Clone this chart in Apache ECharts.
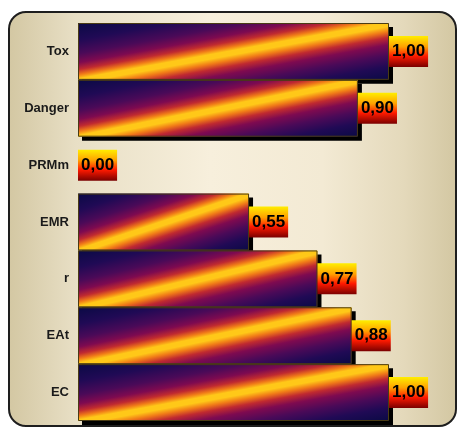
<!DOCTYPE html>
<html>
<head>
<meta charset="utf-8">
<script src="https://cdn.jsdelivr.net/npm/echarts@6/dist/echarts.min.js"></script>
<style>
  html, body { margin: 0; padding: 0; background: #ffffff; }
  #chart { width: 457px; height: 428px; }
</style>
</head>
<body>
<div id="chart"></div>
<script>
// Indicator names (top to bottom) and their scores
const categories = ['Tox', 'Danger', 'PRMm', 'EMR', 'r', 'EAt', 'EC'];
const scores = [1.00, 0.90, 0.00, 0.55, 0.77, 0.88, 1.00];

const chart = echarts.init(document.getElementById('chart'), null, { renderer: 'canvas' });

// Diagonal "flame" stripe: navy corners, yellow band along the bar's diagonal
const stripeStops = [
  { offset: 0.00, color: '#0a0a45' },
  { offset: 0.15, color: '#200a55' },
  { offset: 0.27, color: '#4a0a58' },
  { offset: 0.35, color: '#7e0a50' },
  { offset: 0.41, color: '#c02a30' },
  { offset: 0.455, color: '#f07a18' },
  { offset: 0.49, color: '#ffc818' },
  { offset: 0.53, color: '#ffc818' },
  { offset: 0.575, color: '#f07a18' },
  { offset: 0.625, color: '#c02a30' },
  { offset: 0.69, color: '#7e0a50' },
  { offset: 0.78, color: '#4a0a58' },
  { offset: 0.88, color: '#200a55' },
  { offset: 1.00, color: '#0a0a45' }
];

// Gradient whose mid-line runs from the bottom-left to the top-right corner of a W x H box
function stripeGradient(W, H) {
  const d = W * W + H * H;
  return new echarts.graphic.LinearGradient(0, 0, 2 * H * H / d, 2 * W * W / d, stripeStops);
}

const labelBg = new echarts.graphic.LinearGradient(0, 0, 0, 1, [
  { offset: 0.00, color: '#ffee00' },
  { offset: 0.35, color: '#ffa000' },
  { offset: 0.65, color: '#ff1a00' },
  { offset: 1.00, color: '#7a0000' }
]);

const frameFill = new echarts.graphic.LinearGradient(0, 0, 1, 0, [
  { offset: 0.00, color: '#d3c7a2' },
  { offset: 0.15, color: '#e8dfc5' },
  { offset: 0.45, color: '#f7efdc' },
  { offset: 0.70, color: '#f3ead4' },
  { offset: 0.88, color: '#e4d9bb' },
  { offset: 1.00, color: '#d3c7a2' }
]);

function fmt(v) { return v.toFixed(2).replace('.', ','); }

const option = {
  animation: false,
  backgroundColor: '#ffffff',
  graphic: [{
    type: 'rect',
    z: -10,
    shape: { x: 9, y: 12, width: 447, height: 414, r: 17 },
    style: { fill: frameFill, stroke: '#1e1e1e', lineWidth: 2 }
  }],
  grid: { left: 78, right: 68, top: 23, bottom: 7 },
  xAxis: {
    type: 'value', min: 0, max: 1,
    show: false, splitLine: { show: false }
  },
  yAxis: {
    type: 'category',
    data: categories,
    inverse: true,
    axisLine: { show: false },
    axisTick: { show: false },
    axisLabel: {
      margin: 9,
      color: '#1a1a1a',
      fontFamily: 'Arial, "Liberation Sans", sans-serif',
      fontWeight: 'bold',
      fontSize: 13
    }
  },
  series: [
    {
      // filled bars with a hard drop shadow
      type: 'bar',
      barCategoryGap: 0,
      barWidth: '100%',
      data: scores.map(v => ({ value: v })),
      itemStyle: {
        color: '#2a0a55',
        borderWidth: 0,
        shadowColor: '#000000',
        shadowBlur: 0,
        shadowOffsetX: 4,
        shadowOffsetY: 4
      }
    },
    {
      // thin outline on top of each bar, plus the value box
      type: 'bar',
      barGap: '-100%',
      barWidth: '100%',
      z: 3,
      data: scores.map(v => ({
        value: v,
        itemStyle: { borderWidth: v > 0 ? 1 : 0 }
      })),
      itemStyle: {
        color: 'rgba(0,0,0,0)',
        borderColor: '#4a3c14'
      },
      label: {
        show: true,
        position: 'right',
        distance: 0,
        formatter: p => fmt(p.value),
        color: '#000000',
        fontFamily: 'Arial, "Liberation Sans", sans-serif',
        fontWeight: 'bold',
        fontSize: 17,
        lineHeight: 17,
        padding: [7, 3, 7, 3],
        backgroundColor: labelBg
      }
    }
  ]
};

chart.setOption(option);

// Per-bar gradient sized to each bar's pixel box
const x0 = chart.convertToPixel({ xAxisIndex: 0 }, 0);
const bandH = chart.getModel().getComponent('yAxis', 0).axis.getBandWidth();
chart.setOption({
  series: [{
    data: scores.map(v => {
      const W = chart.convertToPixel({ xAxisIndex: 0 }, v) - x0;
      return W > 0.5 ? { value: v, itemStyle: { color: stripeGradient(W, bandH) } } : { value: v };
    })
  }]
});
</script>
</body>
</html>
